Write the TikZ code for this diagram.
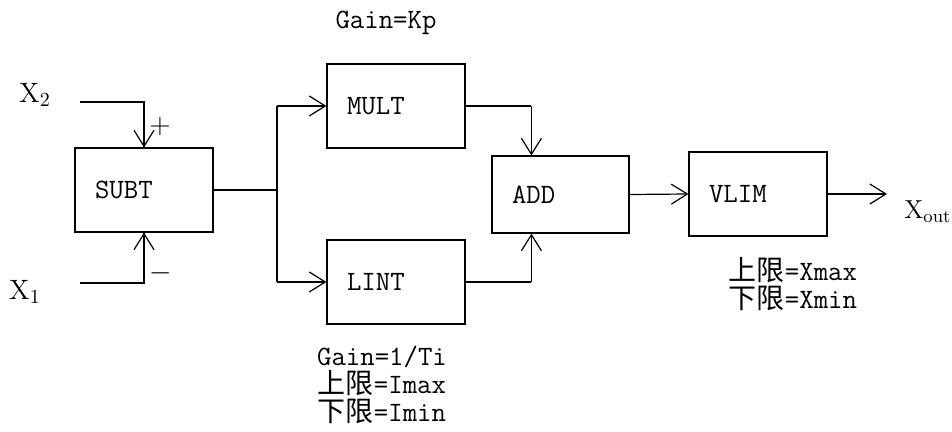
\documentclass[tikz,border=0pt]{standalone}
\usepackage{fontspec}
\newfontfamily\cjk{Noto Sans CJK SC}
\usetikzlibrary{arrows.meta,calc}
\begin{document}
\begin{tikzpicture}[x=0.5pt,y=-0.5pt,
  >={Straight Barb[length=8pt,width=10pt,line width=0.6pt]},
  blk/.style={draw,line width=0.6pt,minimum height=42pt,text width=49pt,
    inner xsep=10pt,inner ysep=0pt,align=left,
    font=\ttfamily\fontsize{14}{14}\selectfont},
  txt/.style={inner sep=0pt,align=center,font=\ttfamily\fontsize{14}{14}\selectfont},
  lbl/.style={inner sep=0pt,font=\rmfamily\fontsize{14}{14}\selectfont},
  thick wire/.style={line width=0.9pt},
  thin wire/.style={line width=0.6pt}]
\useasboundingbox (0,0) rectangle (952,432);
% blocks
\node[blk] (subt) at (144,190) {SUBT};
\node[blk] (mult) at (396,106) {MULT};
\node[blk] (lint) at (396,282) {LINT};
\node[blk,minimum height=38.5pt,text width=48.5pt] (add) at (560.5,194.5) {ADD};
\node[blk] (vlim) at (758,194) {VLIM};
% texts
\node[lbl] (x2) at (35,95) {X$_2$};
\node[lbl] (x1) at (25,292) {X$_1$};
\node[lbl] (plus) at (160,127) {+};
\node[lbl] (minus) at (161,273) {$-$};
\node[lbl,font=\rmfamily\fontsize{13}{13}\selectfont,anchor=west] (xout) at (904,212) {X$_{\mathrm{out}}$};
\node[txt] (multp) at (386,23) {Gain=Kp};
\node[txt] (lintp) at (382,385) {Gain=1/Ti\\{\cjk 上限}=Imax\\{\cjk 下限}=Imin};
\node[txt] (vlimp) at (793,284.5) {{\cjk 上限}=Xmax\\{\cjk 下限}=Xmin};
% coordinates
\coordinate (x2s) at (80,102);
\coordinate (x1s) at (80,283);
\coordinate (br) at (277,190);
\coordinate (addt) at ([xshift=20pt]add.north west);
\coordinate (addb) at ([xshift=20pt]add.south west);
\coordinate (outend) at (887,194);
% connectors
\draw[thick wire] (x2s) -| (subt.north);
\draw[thin wire,->] ([yshift=-1pt]subt.north) ++(0,-20) -- (subt.north);
\draw[thick wire] (x1s) -| (subt.south);
\draw[thin wire,->] ([yshift=1pt]subt.south) ++(0,20) -- (subt.south);
\draw[thick wire] (subt.east) -- (br);
\draw[thick wire] (br |- mult.west) -- (br |- lint.west);
\draw[thick wire,->] (br |- mult.west) -- (mult.west);
\draw[thick wire,->] (br |- lint.west) -- (lint.west);
\draw[thick wire] (mult.east) -- (addt |- mult.east);
\draw[thin wire,->] (addt |- mult.east) -- (addt);
\draw[thick wire] (lint.east) -- (addb |- lint.east);
\draw[thin wire,->] (addb |- lint.east) -- (addb);
\draw[thin wire,->] (add.east) -- (vlim.west);
\draw[thin wire,->] (vlim.east) -- (outend);
\end{tikzpicture}
\end{document}
